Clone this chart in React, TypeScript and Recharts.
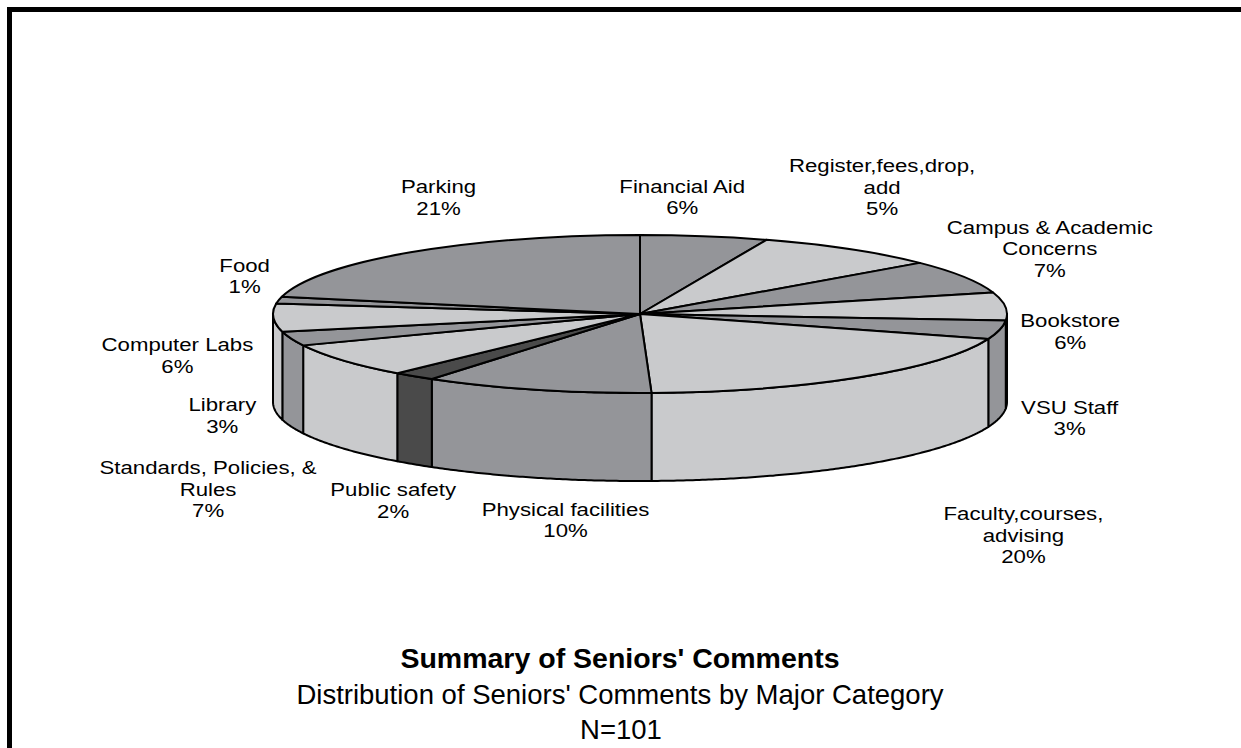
import React from 'react';
import { PieChart, Pie } from 'recharts';

// ---- data ----
const categories = [
  'Financial Aid',
  'Register,fees,drop,\nadd',
  'Campus & Academic\nConcerns',
  'Bookstore',
  'VSU Staff',
  'Faculty,courses,\nadvising',
  'Physical facilities',
  'Public safety',
  'Standards, Policies, &\nRules',
  'Library',
  'Computer Labs',
  'Food',
  'Parking',
];
// slice sizes as drawn (share of the pie, %)
const shares = [5.6, 8.2, 6.8, 5.7, 3.8, 19.4, 10.1, 1.9, 7.0, 2.9, 5.7, 1.4, 21.5];
// percentage labels as printed on the chart
const percentLabels = ['6%', '5%', '7%', '6%', '3%', '20%', '10%', '2%', '7%', '3%', '6%', '1%', '21%'];

const titleText = "Summary of Seniors' Comments";
const subtitleText = "Distribution of Seniors' Comments by Major Category";
const countText = 'N=101';

const rows = categories.map((name, i) => ({ name, value: shares[i], pct: percentLabels[i] }));

// ---- styles / layout ----
const DARK = '#949599';
const LIGHT = '#c9cacc';
const DARKEST = '#4a4a4a';
const sliceColors = [DARK, LIGHT, DARK, LIGHT, DARK, LIGHT, DARK, DARKEST, LIGHT, DARK, LIGHT, DARK, DARK];
const labelNudge: [number, number][] = [
  [-22, -39], [32, -62], [86, -28], [65, 25], [70, 0], [164, 70], [29, 42],
  [-21, 36], [-135, 41], [-69, -11], [-96, -50], [-34, -24], [28, -55],
];
const FLAT = 79 / 367;
const DEPTH = 88;
const FONT = "'Liberation Sans', Arial, sans-serif";
const LABEL_SIZE = 18.5;
const LABEL_STRETCH = 1.2;
const LINE_H = 21.5;

function renderSlice(props: any) {
  const { cx, cy, outerRadius, startAngle, endAngle, index } = props;
  const rx = outerRadius;
  const ry = outerRadius * FLAT;
  const rad = Math.PI / 180;
  const pt = (a: number, dy = 0): [number, number] => [
    cx + rx * Math.cos(a * rad),
    cy - ry * Math.sin(a * rad) + dy,
  ];
  const s = Math.max(startAngle, endAngle);
  const e = Math.min(startAngle, endAngle);
  const fill = sliceColors[index];

  // outer wall (front half only)
  let wall: string | null = null;
  const lo = Math.max(e, -180);
  const hi = Math.min(s, 0);
  if (hi > lo) {
    const n = Math.max(2, Math.ceil((hi - lo) * 2));
    const top: [number, number][] = [];
    const bot: [number, number][] = [];
    for (let k = 0; k <= n; k++) {
      const a = hi - ((hi - lo) * k) / n;
      top.push(pt(a));
      bot.push(pt(a, DEPTH));
    }
    bot.reverse();
    wall =
      'M' + top.map((p) => p[0].toFixed(2) + ',' + p[1].toFixed(2)).join(' L') +
      ' L' + bot.map((p) => p[0].toFixed(2) + ',' + p[1].toFixed(2)).join(' L') + ' Z';
  }

  const [x1, y1] = pt(s);
  const [x2, y2] = pt(e);
  const large = s - e > 180 ? 1 : 0;
  const topFace = `M${cx},${cy} L${x1},${y1} A${rx},${ry} 0 ${large} 1 ${x2},${y2} Z`;

  // label
  const mid = (s + e) / 2;
  const front = Math.sin(mid * rad) < 0;
  const rim = pt(mid, front ? DEPTH : 0);
  const lx = rim[0] + labelNudge[index][0];
  const lc = rim[1] + labelNudge[index][1];
  const lines = [...categories[index].split('\n'), percentLabels[index]];
  const firstBase = lc + 6.5 - ((lines.length - 1) * LINE_H) / 2;

  return (
    <g key={'slice-' + index}>
      {wall && (
        <path d={wall} fill={fill} stroke="#000" strokeWidth={2} strokeLinejoin="round" />
      )}
      <path d={topFace} fill={fill} stroke="#000" strokeWidth={2} strokeLinejoin="round" />
      {lines.map((t, j) => (
        <text
          key={j}
          x={0}
          y={0}
          transform={`translate(${lx.toFixed(2)} ${(firstBase + j * LINE_H).toFixed(2)}) scale(${LABEL_STRETCH} 1)`}
          textAnchor="middle"
          fontFamily={FONT}
          fontSize={LABEL_SIZE}
          fill="#000"
          stroke="none"
        >
          {t}
        </text>
      ))}
    </g>
  );
}

export default function App() {
  return (
    <div
      style={{
        position: 'fixed',
        left: 0,
        top: 0,
        width: 1241,
        height: 748,
        overflow: 'hidden',
        background: '#fff',
      }}
    >
      <div style={{ position: 'absolute', left: 0, top: 0 }}>
        <PieChart width={1241} height={748} margin={{ top: 0, right: 0, bottom: 0, left: 0 }}>
          <Pie
            data={rows}
            dataKey="value"
            nameKey="name"
            cx={640}
            cy={314}
            innerRadius={0}
            outerRadius={367}
            startAngle={90}
            endAngle={-270}
            fill="none"
            stroke="none"
            labelLine={false}
            label={renderSlice}
            isAnimationActive={false}
          />
        </PieChart>
      </div>
      <svg
        width={1241}
        height={748}
        style={{ position: 'absolute', left: 0, top: 0, pointerEvents: 'none' }}
      >
        <text x={620} y={668} textAnchor="middle" fontFamily={FONT} fontWeight="bold" fontSize={28.5} fill="#000">
          {titleText}
        </text>
        <text x={620} y={704} textAnchor="middle" fontFamily={FONT} fontSize={27.5} fill="#000">
          {subtitleText}
        </text>
        <text x={621} y={739} textAnchor="middle" fontFamily={FONT} fontSize={27.5} fill="#000">
          {countText}
        </text>
        {/* frame: only the top and left edges fall inside the picture */}
        <rect x={7} y={7} width={1234} height={5} fill="#000" />
        <rect x={7} y={7} width={5} height={741} fill="#000" />
      </svg>
    </div>
  );
}
